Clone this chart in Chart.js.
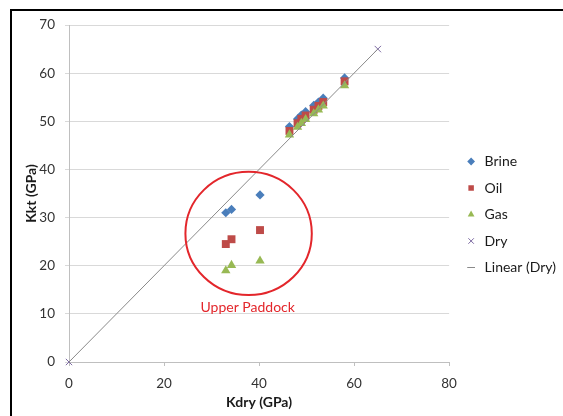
<!DOCTYPE html>
<html>
<head>
<meta charset="utf-8">
<title>Kkt vs Kdry</title>
<script src="https://cdn.jsdelivr.net/npm/chart.js@4.4.1/dist/chart.umd.min.js"></script>
<style>
  body { margin: 0; background: #fff; }
  #wrap { width: 563px; height: 416px; }
</style>
</head>
<body>
<div id="wrap"><canvas id="kChart" width="563" height="416"></canvas></div>
<script>
// dry-frame bulk modulus for each sample (GPa)
var kdry = [46.4, 48.1, 48.9, 49.8, 51.5, 52.5, 53.5, 58.0, 33.0, 34.2, 40.2];
// saturated (Kkt) modulus per fluid, same sample order as kdry
var kBrine = [48.9, 50.5, 51.3, 52.0, 53.3, 54.0, 54.8, 59.0, 31.0, 31.7, 34.7];
var kOil   = [48.0, 49.6, 50.5, 51.2, 52.4, 53.2, 54.0, 58.3, 24.5, 25.5, 27.4];
var kGas   = [47.2, 48.8, 49.6, 50.4, 51.6, 52.4, 53.2, 57.4, 19.0, 20.1, 21.0];
// dry end points, also used for the linear trend
var dryX = [0, 65];
var dryY = [0, 65];
var xTicks = [0, 20, 40, 60, 80];
var yTicks = [0, 10, 20, 30, 40, 50, 60, 70];

function pairs(xs, ys) {
    return xs.map(function (v, i) { return {x: v, y: ys[i]}; });
}

var FONT = 'Lato, "Open Sans", sans-serif';

// ring + caption around the Upper Paddock samples (data units)
var ring = {x: 37.8, y: 26.7, rx: 13.3, ry: 12.8, labelX: 37.6, labelY: 11.3};

var framePlugin = {
    id: 'frame',
    beforeDraw: function (chart) {
        var ctx = chart.ctx;
        ctx.save();
        ctx.fillStyle = '#fff';
        ctx.fillRect(0, 0, chart.width, chart.height);
        ctx.fillStyle = '#000';
        ctx.fillRect(10, 9, chart.width - 10, 2);
        ctx.fillRect(10, 9, 2, chart.height - 9);
        ctx.restore();
    }
};

var paddockPlugin = {
    id: 'paddock',
    afterDatasetsDraw: function (chart) {
        var ctx = chart.ctx, xs = chart.scales.x, ys = chart.scales.y;
        var cx = xs.getPixelForValue(ring.x), cy = ys.getPixelForValue(ring.y);
        var rx = xs.getPixelForValue(ring.x + ring.rx) - cx;
        var ry = cy - ys.getPixelForValue(ring.y + ring.ry);
        ctx.save();
        ctx.strokeStyle = '#e3262b';
        ctx.lineWidth = 2;
        ctx.beginPath();
        ctx.ellipse(cx, cy, rx, ry, 0, 0, Math.PI * 2);
        ctx.stroke();
        ctx.fillStyle = '#e3262b';
        ctx.font = '14px ' + FONT;
        ctx.textAlign = 'center';
        ctx.textBaseline = 'middle';
        ctx.fillText('Upper Paddock', xs.getPixelForValue(ring.labelX), ys.getPixelForValue(ring.labelY));
        ctx.restore();
    }
};

// nudge the key box a bit right of the plot and up
var legendNudge = {
    id: 'legendNudge',
    afterLayout: function (chart) {
        var lg = chart.legend;
        lg.left += 3;
        lg.right += 3;
        lg.top -= 6;
        lg.bottom -= 6;
    }
};

var ctx = document.getElementById('kChart').getContext('2d');
var kChart = new Chart(ctx, {
    type: 'scatter',
    data: {
        datasets: [{
            label: 'Brine',
            data: pairs(kdry, kBrine),
            pointStyle: 'rectRot',
            pointRadius: 4.6,
            backgroundColor: '#4a7ebb',
            borderColor: '#4a7ebb',
            borderWidth: 0,
            order: 4
        }, {
            label: 'Oil',
            data: pairs(kdry, kOil),
            pointStyle: 'rect',
            pointRadius: 5.6,
            backgroundColor: '#be4b48',
            borderColor: '#be4b48',
            borderWidth: 0,
            order: 3
        }, {
            label: 'Gas',
            data: pairs(kdry, kGas),
            pointStyle: 'triangle',
            pointRadius: 5.4,
            backgroundColor: '#98b954',
            borderColor: '#98b954',
            borderWidth: 0,
            order: 2
        }, {
            label: 'Dry',
            data: pairs(dryX, dryY),
            pointStyle: 'crossRot',
            pointRadius: 4.5,
            backgroundColor: '#7e6ca3',
            borderColor: '#7e6ca3',
            borderWidth: 1,
            order: 1
        }, {
            label: 'Linear (Dry)',
            data: pairs(dryX, dryY),
            showLine: true,
            pointRadius: 0,
            pointStyle: 'line',
            borderColor: '#8a8a8a',
            backgroundColor: '#8a8a8a',
            borderWidth: 1,
            order: 0
        }]
    },
    options: {
        responsive: false,
        animation: false,
        clip: false,
        layout: {padding: {top: 25, right: 0, left: 0, bottom: 0}},
        plugins: {
            tooltip: {enabled: false},
            legend: {
                position: 'right',
                maxWidth: 116,
                labels: {
                    usePointStyle: true,
                    boxWidth: 13,
                    boxHeight: 5.5,
                    padding: 12.5,
                    color: '#1a1a1a',
                    font: {family: FONT, size: 14},
                    sort: function (a, b) { return a.datasetIndex - b.datasetIndex; }
                }
            }
        },
        scales: {
            x: {
                type: 'linear',
                min: 0,
                max: 80,
                afterBuildTicks: function (s) { s.ticks = xTicks.map(function (v) { return {value: v}; }); },
                afterFit: function (s) { s.height = 54; },
                grid: {drawOnChartArea: false, tickLength: 4, color: '#bfbfbf'},
                border: {color: '#bfbfbf'},
                ticks: {color: '#333', padding: 10, font: {family: FONT, size: 13.5}},
                title: {
                    display: true,
                    text: 'Kdry (GPa)',
                    color: '#1a1a1a',
                    font: {family: FONT, size: 14, weight: 'bold'},
                    padding: {top: 0, bottom: 5}
                }
            },
            y: {
                type: 'linear',
                min: 0,
                max: 70,
                afterBuildTicks: function (s) { s.ticks = yTicks.map(function (v) { return {value: v}; }); },
                afterFit: function (s) { s.width = 69; },
                grid: {color: '#d9d9d9', tickLength: 4},
                border: {color: '#bfbfbf'},
                ticks: {color: '#333', padding: 10, font: {family: FONT, size: 13.5}},
                title: {
                    display: true,
                    text: 'Kkt (GPa)',
                    color: '#1a1a1a',
                    font: {family: FONT, size: 14, weight: 'bold'},
                    padding: {top: 23, bottom: 0}
                }
            }
        }
    },
    plugins: [framePlugin, paddockPlugin, legendNudge]
});
</script>
</body>
</html>
